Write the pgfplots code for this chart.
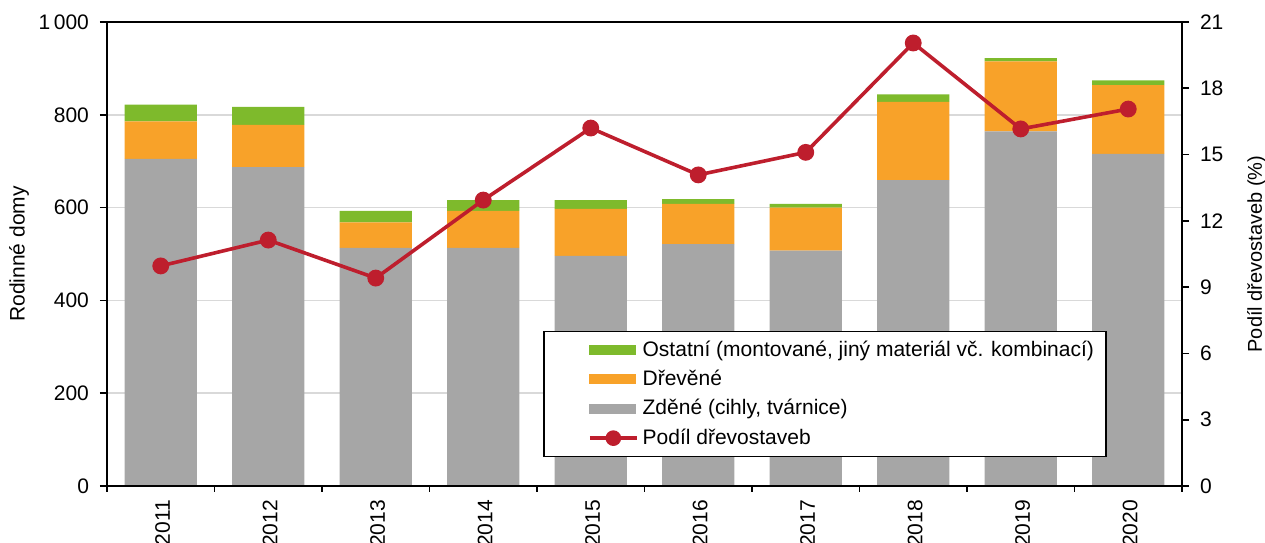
\documentclass[border=0pt]{standalone}
\usepackage{fontspec}
\setmainfont{Liberation Sans}
\usepackage{pgfplots}
\usepackage{pgfplotstable}
\pgfplotsset{compat=1.18}

\definecolor{czgray}{HTML}{A6A6A6}
\definecolor{czorange}{HTML}{F8A229}
\definecolor{czgreen}{HTML}{7EBA2C}
\definecolor{czred}{HTML}{BE1E2D}
\definecolor{gridgray}{HTML}{D9D9D9}

% dokoncene rodinne domy podle materialu
\pgfplotstableread{
x  zdene drevene ostatni
1  705   81      36
2  687   91      39
3  513   55      25
4  513   80      23
5  496   101     19
6  521   87      10
7  507   93      8
8  659   169     16
9  764   151     7
10 716   148     10
}\domy

% podil drevostaveb (%)
\pgfplotstableread{
x  podil
1  9.96
2  11.13
3  9.41
4  12.94
5  16.20
6  14.08
7  15.10
8  20.05
9  16.16
10 17.06
}\podil

\pgfplotsset{
  barleg/.style={legend image code/.code={%
    \path (-18pt,0pt);
    \fill[#1] (0pt,-2.2pt) rectangle (23pt,2.2pt);}},
  every axis/.append style={
    scale only axis, width=537.5pt, height=232pt,
    xmin=0.5, xmax=10.5,
    /pgf/number format/assume math mode=true,
    tick label style={font=\fontsize{10.5}{12.5}\selectfont},
    label style={font=\fontsize{10.5}{12.5}\selectfont},
    axis line style={line width=1pt},
    tick style={black, line width=0.8pt},
    tick align=outside,
    major tick length=3.5pt,
  },
}

\begin{document}
\begin{tikzpicture}
\begin{axis}[
  ybar stacked, bar width=0.67,
  ymin=0, ymax=1000, ytick={0,200,...,1000},
  ytick pos=left,
  yticklabel style={xshift=-2pt},
  ymajorgrids, grid style={draw=gridgray, line width=0.8pt},
  xtick={1,...,10},
  xticklabels={2011,2012,2013,2014,2015,2016,2017,2018,2019,2020},
  major x tick style={draw=none},
  minor xtick={0.5,1.5,...,10.5},
  minor tick length=3pt,
  xtick pos=bottom,
  xticklabel style={rotate=90, anchor=east, yshift=-1pt},
  ylabel={Rodinné domy},
  ylabel shift=-2pt,
  /pgf/number format/1000 sep={\,},
]
\addplot[fill=czgray, draw=none] table[x=x, y=zdene] {\domy};
\addplot[fill=czorange, draw=none] table[x=x, y=drevene] {\domy};
\addplot[fill=czgreen, draw=none] table[x=x, y=ostatni] {\domy};
\coordinate (bl) at (rel axis cs:0,0);
\coordinate (tr) at (rel axis cs:1,1);
\end{axis}

\begin{axis}[
  ymin=0, ymax=21, ytick={0,3,...,21},
  ytick pos=right,
  yticklabel style={xshift=2pt},
  xtick=\empty,
  ylabel={Podíl dřevostaveb (\%)},
  ylabel near ticks,
  ylabel shift=5pt,
  legend cell align=left,
  legend style={at={(0.406,0.0625)}, anchor=south west, draw=black,
    line width=0.6pt, font=\fontsize{10.5}{12.5}\selectfont,
    inner xsep=4pt, inner ysep=2.5pt, row sep=1.5pt},
]
\addlegendimage{barleg=czgreen}
\addlegendentry{Ostatní (montované, jiný materiál vč. kombinací)}
\addlegendimage{barleg=czorange}
\addlegendentry{Dřevěné}
\addlegendimage{barleg=czgray}
\addlegendentry{Zděné (cihly, tvárnice)}
\addplot[czred, line width=1.8pt, mark=*, mark size=3.3pt,
  legend image code/.code={%
    \path (-18pt,0pt);
    \draw[czred, line width=1.8pt] (0pt,0pt) -- (23.5pt,0pt);
    \fill[czred] (11.75pt,0pt) circle (3pt);}]
  table[x=x, y=podil] {\podil};
\addlegendentry{Podíl dřevostaveb}
\end{axis}

\pgfresetboundingbox
\path[use as bounding box] ([xshift=-53.5pt,yshift=-28.5pt]bl) rectangle ([xshift=41.5pt,yshift=11pt]tr);
\end{tikzpicture}
\end{document}
